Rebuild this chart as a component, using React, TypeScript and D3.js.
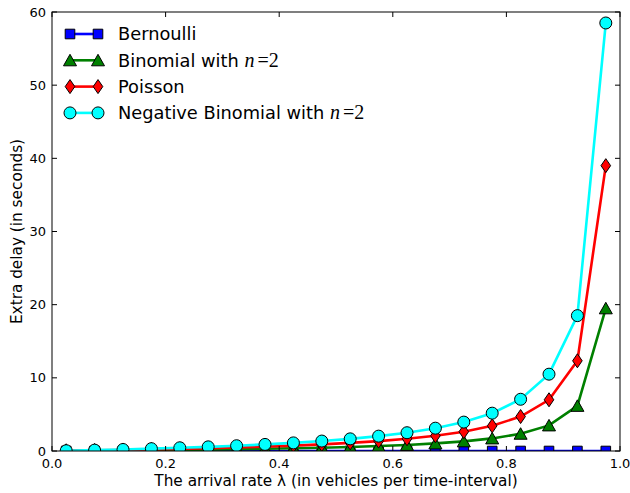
import React, { useEffect, useRef } from "react";
import * as d3 from "d3";

// arrival rates (x) and extra delay values (seconds)
const rates = [0.025, 0.075, 0.125, 0.175, 0.225, 0.275, 0.325, 0.375, 0.425, 0.475,
  0.525, 0.575, 0.625, 0.675, 0.725, 0.775, 0.825, 0.875, 0.925, 0.975];
const bernoulli = [0, 0, 0, 0, 0, 0, 0, 0, 0, 0, 0, 0, 0, 0, 0, 0, 0, 0, 0, 0];
const binomial = [0.01, 0.04, 0.07, 0.11, 0.15, 0.19, 0.24, 0.3, 0.37, 0.45,
  0.55, 0.68, 0.83, 1.04, 1.32, 1.72, 2.36, 3.5, 6.17, 19.5];
const poisson = [0.03, 0.08, 0.14, 0.21, 0.29, 0.38, 0.48, 0.6, 0.74, 0.9,
  1.11, 1.35, 1.67, 2.08, 2.64, 3.44, 4.71, 7.0, 12.33, 39.0];
const negBinomial = [0.04, 0.12, 0.21, 0.32, 0.44, 0.57, 0.72, 0.9, 1.11, 1.36,
  1.66, 2.03, 2.5, 3.12, 3.95, 5.17, 7.07, 10.5, 18.5, 58.5];

const xTicks = [0, 0.2, 0.4, 0.6, 0.8, 1.0];
const yTicks = [0, 10, 20, 30, 40, 50, 60];

const series = [
  { name: "Bernoulli", math: false, values: bernoulli, color: "#0000ff", marker: "square" },
  { name: "Binomial with ", math: true, values: binomial, color: "#008000", marker: "triangle" },
  { name: "Poisson", math: false, values: poisson, color: "#ff0000", marker: "diamond" },
  { name: "Negative Binomial with ", math: true, values: negBinomial, color: "#00ffff", marker: "circle" },
];

const markerPath = (type: string) => {
  if (type === "square") return "M-4.8,-4.8H4.8V4.8H-4.8Z";
  if (type === "triangle") return "M0,-6L6.5,5.5L-6.5,5.5Z";
  if (type === "diamond") return "M0,-7L4.8,0L0,7L-4.8,0Z";
  return d3.arc()({ innerRadius: 0, outerRadius: 6, startAngle: 0, endAngle: Math.PI * 2 }) as string;
};

const FONT = "'DejaVu Sans', sans-serif";

export default function App() {
  const ref = useRef<SVGSVGElement>(null);

  useEffect(() => {
    const width = 630;
    const height = 493;
    const margin = { top: 12, right: 10, bottom: 42, left: 52 };
    const innerWidth = width - margin.left - margin.right;
    const innerHeight = height - margin.top - margin.bottom;

    const svg = d3.select(ref.current);
    svg.selectAll("*").remove();

    const x = d3.scaleLinear().domain([0, 1]).range([0, innerWidth]);
    const y = d3.scaleLinear().domain([0, 60]).range([innerHeight, 0]);

    svg.append("rect").attr("width", width).attr("height", height).attr("fill", "#fff");

    svg.append("defs").append("clipPath").attr("id", "plot-clip")
      .append("rect").attr("width", innerWidth).attr("height", innerHeight);

    const g = svg.append("g").attr("transform", `translate(${margin.left},${margin.top})`);

    const plot = g.append("g").attr("clip-path", "url(#plot-clip)");
    const line = d3.line<number>().x((_, i) => x(rates[i])).y(d => y(d));

    series.forEach(s => {
      plot.append("path")
        .attr("d", line(s.values))
        .attr("fill", "none")
        .attr("stroke", s.color)
        .attr("stroke-width", 2.6);
      plot.selectAll(null)
        .data(s.values)
        .join("path")
        .attr("transform", (d, i) => `translate(${x(rates[i])},${y(d)})`)
        .attr("d", markerPath(s.marker))
        .attr("fill", s.color)
        .attr("stroke", "#000")
        .attr("stroke-width", 1);
    });

    // frame
    g.append("rect")
      .attr("width", innerWidth).attr("height", innerHeight)
      .attr("fill", "none").attr("stroke", "#000").attr("stroke-width", 1);

    const tickLen = 5;
    xTicks.forEach(t => {
      g.append("line").attr("x1", x(t)).attr("x2", x(t)).attr("y1", innerHeight).attr("y2", innerHeight - tickLen).attr("stroke", "#000");
      g.append("line").attr("x1", x(t)).attr("x2", x(t)).attr("y1", 0).attr("y2", tickLen).attr("stroke", "#000");
      g.append("text")
        .attr("x", x(t)).attr("y", innerHeight + 17)
        .attr("text-anchor", "middle")
        .attr("font-family", FONT).attr("font-size", 13)
        .text(d3.format(".1f")(t));
    });
    yTicks.forEach(t => {
      g.append("line").attr("x1", 0).attr("x2", tickLen).attr("y1", y(t)).attr("y2", y(t)).attr("stroke", "#000");
      g.append("line").attr("x1", innerWidth).attr("x2", innerWidth - tickLen).attr("y1", y(t)).attr("y2", y(t)).attr("stroke", "#000");
      g.append("text")
        .attr("x", -6).attr("y", y(t))
        .attr("dy", "0.35em")
        .attr("text-anchor", "end")
        .attr("font-family", FONT).attr("font-size", 13)
        .text(t);
    });

    svg.append("text")
      .attr("x", margin.left + innerWidth / 2).attr("y", height - 7)
      .attr("text-anchor", "middle")
      .attr("font-family", FONT).attr("font-size", 15.3)
      .text("The arrival rate λ (in vehicles per time-interval)");

    svg.append("text")
      .attr("transform", `translate(22,${margin.top + innerHeight / 2}) rotate(-90)`)
      .attr("text-anchor", "middle")
      .attr("font-family", FONT).attr("font-size", 15.3)
      .text("Extra delay (in seconds)");

    // legend (no frame, two points per entry)
    const legend = svg.append("g").attr("transform", "translate(70,34)");
    series.forEach((s, i) => {
      const row = legend.append("g").attr("transform", `translate(0,${i * 26.3})`);
      row.append("line").attr("x1", 0).attr("x2", 28).attr("stroke", s.color).attr("stroke-width", 2.6);
      [0, 28].forEach(px => {
        row.append("path")
          .attr("transform", `translate(${px},0)`)
          .attr("d", markerPath(s.marker))
          .attr("fill", s.color).attr("stroke", "#000").attr("stroke-width", 1);
      });
      const txt = row.append("text")
        .attr("x", 48).attr("dy", "0.36em")
        .attr("font-family", FONT).attr("font-size", 17.8)
        .text(s.name);
      if (s.math) {
        txt.append("tspan").attr("font-family", "'Liberation Serif', serif").attr("font-style", "italic").attr("font-size", 20).text("n");
        txt.append("tspan").attr("font-family", "'Liberation Serif', serif").attr("font-size", 20).attr("dx", 3).text("=2");
      }
    });
  }, []);

  return <svg ref={ref} width={630} height={493} style={{ position: "absolute", left: 0, top: 0 }}></svg>;
}
